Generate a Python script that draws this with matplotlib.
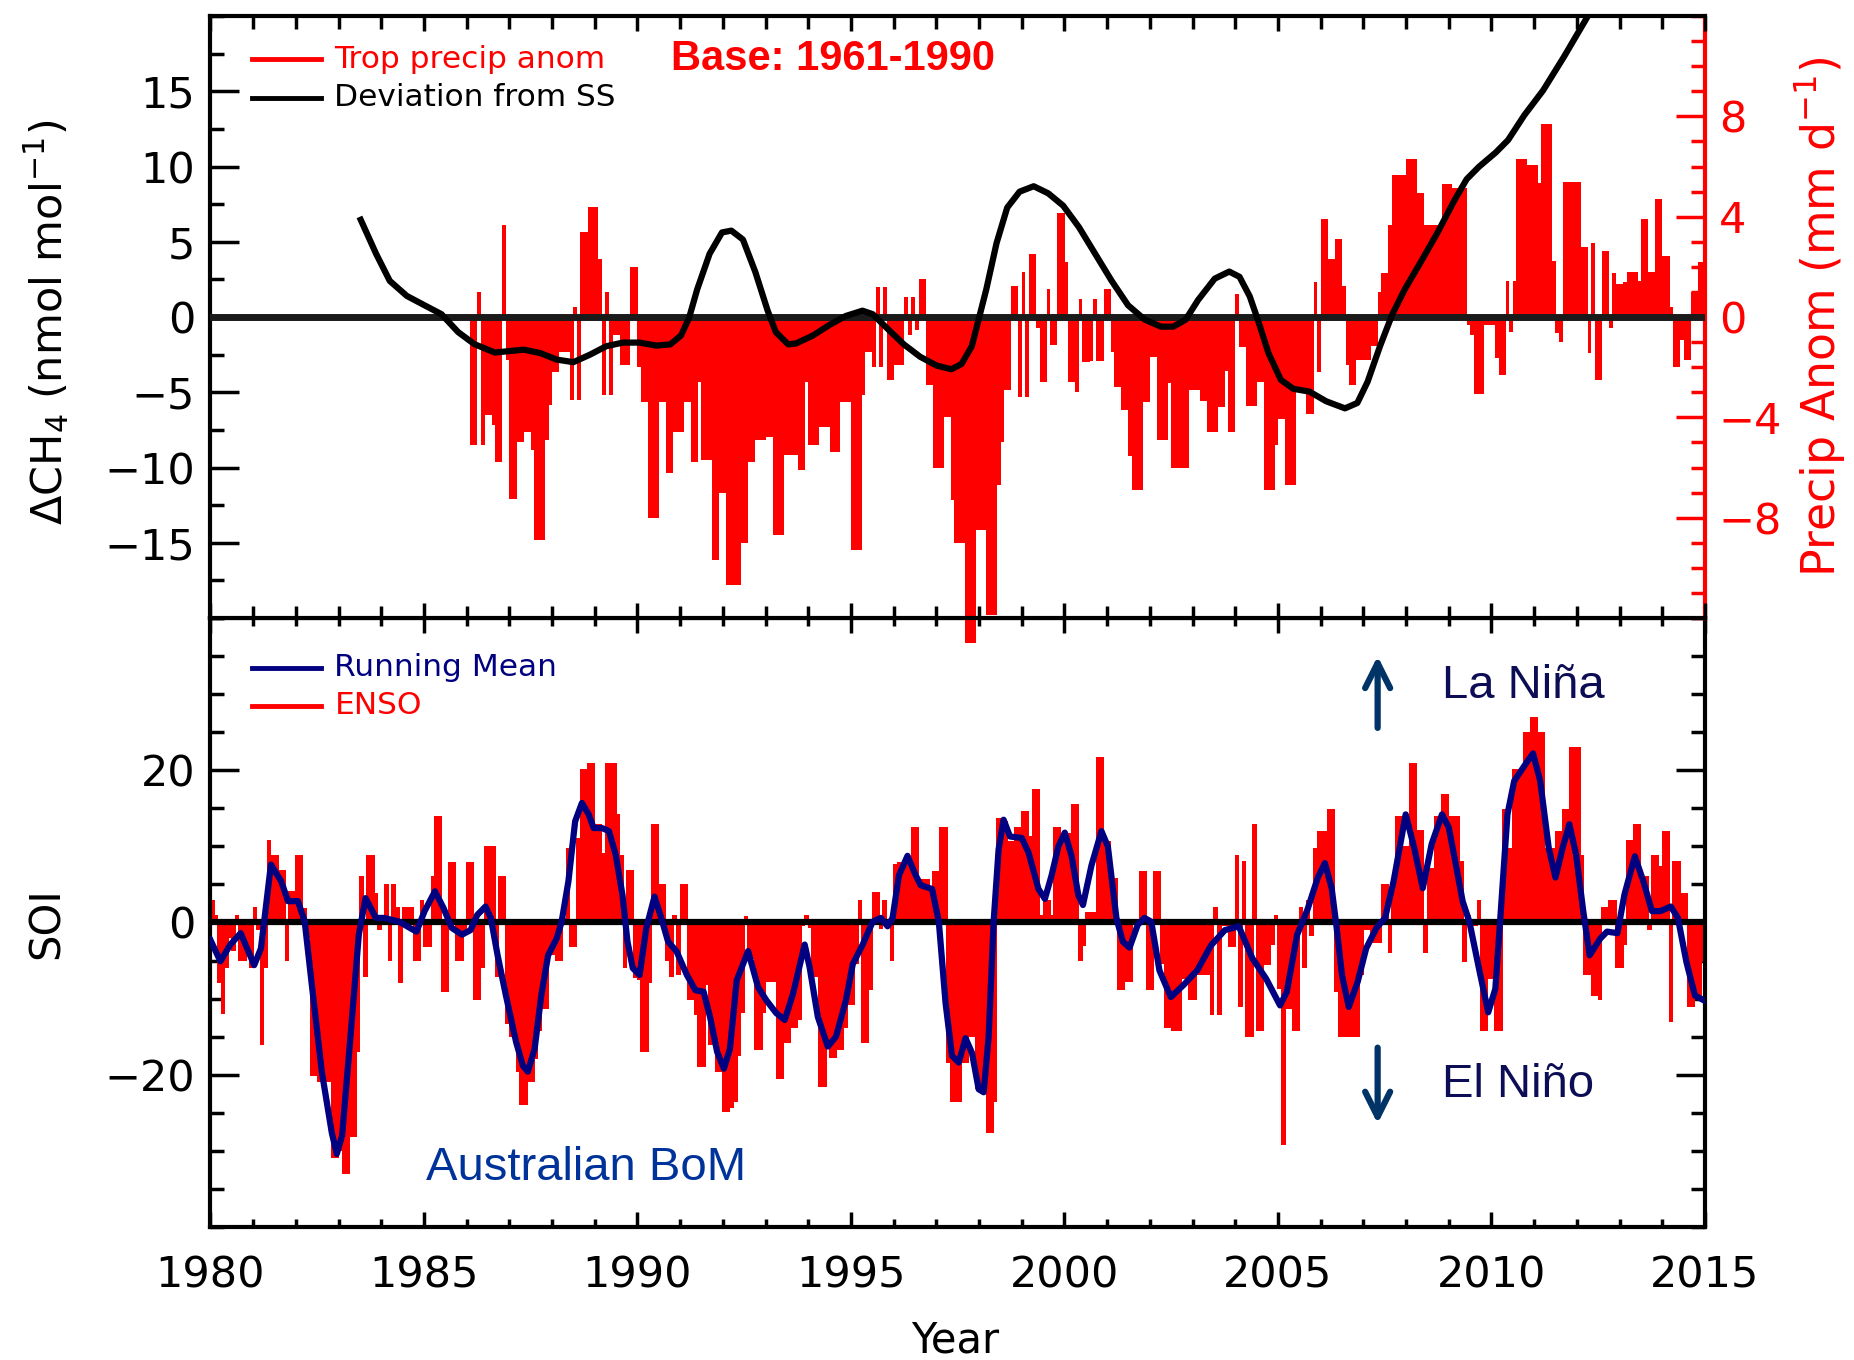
import matplotlib
matplotlib.use("Agg")
import matplotlib.pyplot as plt
import numpy as np
from matplotlib.ticker import MultipleLocator

# ---- values ----

# tropical precipitation anomaly (mm/d), monthly from Jan 1986
precip_start = 1986.0
precip_anom = [
    0.0, -5.1, -5.1, 1.0, -5.1, -3.9, -3.9, -4.3, -5.8, -5.8, 3.65, -1.7,          # 1986
    -7.25, -7.25, -5.0, -5.0, -4.6, -4.6, -5.3, -8.9, -8.9, -8.9, -4.9, -3.5,      # 1987
    -2.2, -2.2, -1.4, -1.4, -1.4, -3.3, 0.4, -3.3, 3.4, 3.4, 4.4, 4.4,             # 1988
    4.4, 2.3, -3.1, 1.0, -3.1, -0.7, -0.7, -1.9, -1.9, -1.9, 2.0, 2.0,             # 1989
    -2.0, -3.4, -3.4, -8.0, -8.0, -8.0, -3.4, -3.4, -6.2, -6.2, -4.6, -4.6,        # 1990
    -4.6, -3.4, -3.4, -5.8, -5.8, -2.6, -5.7, -5.7, -5.7, -9.7, -9.7, -7.0,        # 1991
    -7.0, -10.7, -10.7, -10.7, -10.7, -9.0, -9.0, -5.8, -5.8, -4.9, -4.9, -4.9,    # 1992
    -4.8, -4.8, -8.7, -8.7, -8.7, -5.5, -5.5, -5.5, -5.5, -6.1, -6.1, -2.6,        # 1993
    -5.1, -5.1, -5.1, -4.4, -4.4, -4.4, -5.4, -5.4, -5.4, -3.4, -3.4, -3.4,        # 1994
    -9.3, -9.3, -9.3, -3.1, -1.4, -1.4, -2.0, 1.2, -2.0, 1.2, -2.5, -2.5,          # 1995
    -1.9, -1.9, -1.9, 0.8, -0.7, 0.8, -0.5, 1.5, 1.5, -2.7, -2.7, -6.0,            # 1996
    -6.0, -6.0, -4.0, -4.0, -7.3, -9.0, -9.0, -9.0, -13.0, -13.0, -13.0, -8.5,     # 1997
    -8.5, -8.5, -11.9, -11.9, -11.9, -6.7, -5.0, -2.9, -2.9, 1.25, 1.25, -3.2,     # 1998
    1.8, -3.2, 2.5, 2.5, -0.45, -2.6, -2.6, 1.1, -1.1, -1.1, 4.15, 4.15,           # 1999
    2.2, -2.6, -2.6, -3.0, 0.7, -1.8, -1.8, -1.75, 0.7, -1.75, -1.75, 1.1,         # 2000
    1.1, -1.4, -2.8, -2.8, -3.7, -3.7, -5.55, -6.9, -6.9, -6.9, -3.4, -3.4,        # 2001
    -1.6, -1.6, -4.9, -4.9, -4.9, -2.65, -6.0, -6.0, -6.0, -6.0, -6.0, -2.9,       # 2002
    -2.9, -2.9, -3.35, -3.35, -4.6, -4.6, -4.6, -3.6, -3.6, -2.15, -4.6, -4.6,     # 2003
    0.9, -1.2, -1.2, -3.55, -3.55, -3.55, -2.6, -2.6, -6.9, -6.9, -6.9, -5.1,      # 2004
    -4.05, -4.05, -6.7, -6.7, -6.7, -2.85, -2.85, -2.85, -3.85, -3.85, 1.4, -2.2,  # 2005
    3.9, 3.9, 2.3, 2.3, 3.1, 3.1, 1.25, -1.9, -2.7, -2.7, -1.7, -1.7,              # 2006
    -1.7, -1.7, -1.15, -1.15, 1.0, 1.75, 1.75, 3.65, 5.65, 5.65, 5.65, 5.65,       # 2007
    6.3, 6.3, 6.3, 4.95, 4.95, 3.65, 3.65, 3.65, 3.65, 3.65, 5.3, 5.3,             # 2008
    5.3, 5.15, 5.15, 5.15, 5.15, -0.3, -0.7, -3.05, -3.05, -3.05, -0.3, -0.3,      # 2009
    -0.3, -1.65, -2.3, -2.3, 1.45, -0.6, 1.45, 6.3, 6.3, 6.3, 6.05, 6.05,          # 2010
    6.05, 5.35, 7.7, 7.7, 7.7, 2.25, -0.65, -1.0, 5.4, 5.4, 5.4, 5.4,              # 2011
    5.4, 2.8, 2.8, -1.45, 2.95, -2.5, -2.5, 2.65, 2.65, -0.45, 1.75, 1.3,          # 2012
    1.3, 1.4, 1.8, 1.8, 1.8, 1.45, 3.9, 3.9, 1.8, 1.8, 4.7, 4.7,                   # 2013
    2.45, 2.45, 0.4, -2.0, -2.0, -0.9, -1.7, -1.7, 1.0, 1.0, 2.2, 2.2,             # 2014
]

# CH4 deviation from steady state (nmol/mol)
dev_year = [1983.52, 1983.88, 1984.2, 1984.6, 1985.0, 1985.41, 1985.8, 1986.18,
            1986.66, 1987.34, 1987.73, 1988.11, 1988.5, 1988.89, 1989.27, 1989.66,
            1990.05, 1990.44, 1990.77, 1991.02, 1991.21, 1991.4, 1991.69, 1991.98,
            1992.2, 1992.47, 1992.76, 1993.05, 1993.24, 1993.53, 1993.72, 1994.11,
            1994.5, 1994.88, 1995.27, 1995.51, 1995.85, 1996.24, 1996.62, 1997.01,
            1997.35, 1997.59, 1997.83, 1997.98, 1998.17, 1998.41, 1998.66, 1998.95,
            1999.28, 1999.62, 1999.97, 2000.34, 2000.72, 2001.1, 2001.49, 2001.88,
            2002.26, 2002.55, 2002.84, 2003.13, 2003.52, 2003.86, 2004.1, 2004.34,
            2004.54, 2004.78, 2005.07, 2005.36, 2005.74, 2006.13, 2006.57, 2006.86,
            2007.1, 2007.39, 2007.68, 2007.97, 2008.36, 2008.74, 2009.13, 2009.42,
            2009.71, 2010.1, 2010.39, 2010.77, 2011.21, 2011.7, 2012.3, 2012.6]
dev_ss = [6.46, 4.2, 2.4, 1.4, 0.8, 0.19, -1.0, -1.8,
          -2.36, -2.17, -2.4, -2.83, -3.0, -2.5, -1.94, -1.7,
          -1.7, -1.9, -1.82, -1.23, -0.05, 1.84, 4.2, 5.62,
          5.74, 5.15, 3.0, 0.42, -1.0, -1.82, -1.75, -1.23,
          -0.52, 0.07, 0.42, 0.19, -0.76, -1.82, -2.64, -3.23,
          -3.47, -3.12, -1.94, -0.28, 1.84, 4.91, 7.27, 8.33,
          8.69, 8.22, 7.4, 5.97, 4.2, 2.43, 0.78, -0.17,
          -0.64, -0.64, -0.17, 1.13, 2.55, 3.02, 2.67, 1.37,
          -0.28, -2.41, -4.18, -4.77, -4.96, -5.6, -6.07, -5.71,
          -4.3, -1.94, 0.19, 1.84, 3.73, 5.62, 7.74, 9.16,
          9.99, 10.93, 11.76, 13.41, 15.06, 17.3, 20.2, 21.6]

# SOI, monthly from Jan 1980
soi_start = 1980.0
soi = [
    3.0, 1.0, -8.0, -12.0, -6.0, -2.0, -3.8, 1.0, -5.1, -5.1, -2.9, -6.0,           # 1980
    2.1, -1.0, -16.1, -6.0, 10.9, 8.9, 8.9, 6.9, 6.9, -5.1, 4.1, 4.1,              # 1981
    8.9, 8.9, 1.9, -2.0, -20.1, -20.1, -21.0, -21.0, -21.0, -21.0, -31.0, -31.0,   # 1982
    -30.0, -33.0, -33.0, -28.2, -28.2, -17.0, 6.1, -7.1, 8.9, 8.9, 3.9, -1.0,      # 1983
    0.8, 5.0, -5.1, 5.0, 2.1, -8.0, 2.1, 2.1, 2.1, -5.1, -5.1, 3.0,                # 1984
    -3.2, -3.2, 6.1, 14.0, 14.0, -9.1, -9.1, 8.0, 8.0, -5.1, -5.1, -1.0,           # 1985
    8.0, 8.0, -10.2, -10.2, -6.0, 10.0, 10.0, 10.0, -7.1, 6.1, 6.1, -13.3,         # 1986
    -15.0, -15.0, -19.6, -24.0, -24.0, -21.0, -21.0, -17.9, -14.2, -11.3, -11.3, -4.3,  # 1987
    -4.3, -5.1, -5.1, 0.6, 9.8, -3.2, -3.2, 11.1, 20.1, 20.1, 21.0, 21.0,          # 1988
    12.9, 12.9, 9.1, 21.0, 21.0, 21.0, 14.2, 8.9, -6.0, 6.9, 6.9, -7.3,            # 1989
    -7.6, -17.0, -17.0, -8.0, 12.9, 12.9, 5.0, 5.0, -5.1, -7.1, 1.0, -6.9,         # 1990
    5.0, 5.0, -10.2, -10.2, -12.2, -19.0, -19.0, -8.2, -16.1, -16.1, -19.6, -19.6, # 1991
    -24.9, -24.9, -24.4, -23.6, -17.5, -11.9, 0.8, -4.8, -4.8, -16.7, -16.7, -11.9,  # 1992
    -7.8, -7.8, -7.8, -20.6, -20.6, -15.8, -15.8, -13.9, -13.9, -12.8, -0.5, 1.0,  # 1993
    -0.7, -7.2, -7.2, -21.6, -21.6, -16.3, -17.8, -17.8, -16.7, -16.7, -13.9, -10.9,  # 1994
    -10.9, -5.5, 2.9, -15.8, -15.8, -8.9, 4.0, 4.0, -0.9, 2.9, 0.5, -5.0,          # 1995
    7.7, 7.9, 7.9, 7.9, 7.9, 12.6, 12.6, 5.7, 5.7, 5.7, 4.0, 6.8,                  # 1996
    6.8, 12.6, 12.6, -18.4, -23.6, -23.6, -23.6, -18.4, -18.4, -15.0, -15.0, -21.9,  # 1997
    -21.9, -21.9, -27.7, -27.7, -23.6, 13.7, 13.7, 13.3, 10.7, 10.7, 12.6, 12.6,   # 1998
    14.6, 14.6, 11.3, 17.6, 17.6, 1.0, 2.9, 2.9, 1.0, 12.6, 12.6, 11.8,            # 1999
    11.8, 11.8, 15.6, 15.6, -5.0, -3.1, 1.4, 1.4, 1.4, 21.7, 21.7, 10.7,           # 2000
    10.7, 5.9, 5.9, -8.9, -8.9, -7.8, -7.8, -0.3, -0.3, 6.8, 6.8, -8.9,            # 2001
    -8.9, 6.8, 6.8, -5.5, -13.9, -13.9, -14.2, -14.2, -14.2, -7.4, -7.4, -10.2,    # 2002
    -10.2, -6.9, -6.9, -6.9, -6.9, -12.2, 2.1, -12.2, -0.5, -0.5, -3.2, -3.2,      # 2003
    8.9, -11.1, 8.1, -15.1, -15.1, 12.9, -14.2, -14.2, -5.6, -5.6, -3.0, 1.0,      # 2004
    -8.7, -29.2, -11.3, -11.3, -14.2, -14.2, 2.1, -6.0, 3.0, -1.8, 9.8, 12.0,      # 2005
    12.0, 12.0, 14.9, 14.9, -9.1, -15.1, -15.1, -15.1, -15.1, -15.1, -15.1, -6.9,  # 2006
    -1.0, -1.0, -2.7, -2.7, -2.7, 5.0, 5.0, -4.0, 5.0, 14.0, 14.0, 10.0,           # 2007
    10.0, 21.0, 21.0, 12.2, 12.2, -4.0, 7.2, 7.2, 14.0, 14.0, 16.9, 16.9,          # 2008
    14.0, 14.0, 14.0, 8.1, -5.2, 1.0, -0.5, -0.5, 3.0, -14.2, -14.2, -7.4,         # 2009
    -7.4, -14.2, -14.2, 14.9, 9.8, 9.8, 20.2, 20.2, 20.2, 25.0, 25.0, 27.0,        # 2010
    27.0, 25.0, 25.0, 9.8, 9.8, 9.8, 12.0, 12.0, 14.9, 14.9, 23.0, 23.0,           # 2011
    23.0, 8.9, -6.9, -6.9, -9.6, -9.6, -10.2, 2.1, 2.1, 3.0, 3.0, -6.0,            # 2012
    -6.0, -3.0, 10.9, 10.9, 12.9, 12.9, 6.1, 6.1, -1.0, 8.9, 8.9, 7.4,             # 2013
    12.0, 12.0, -13.1, 8.1, 8.1, 3.9, 3.9, -11.1, -11.1, -10.0, -10.0, -5.2,       # 2014
]

# SOI running mean, traced as (months after Jan 1980, SOI)
rm_month = [0, 2.8, 5.6, 8.5, 12.3, 14.2, 17, 19.9, 21.8, 24.6, 26.5, 28.4, 31.3, 34.1,
            35.5, 37, 39.3, 41.7, 43.6, 46.5, 48.8, 53.1, 56, 57.9, 60.2, 63.1, 65.5,
            67.8, 70.7, 73.1, 75, 77.3, 78.8, 80.7, 83, 85.9, 87.8, 89.2, 91.1, 93,
            94.9, 97.3, 98.7, 100.6, 102.5, 104.4, 106.3, 107.7, 110.1, 112, 113.9,
            115.8, 117.2, 118.7, 120.6, 122.5, 124.8, 126.7, 128.6, 131, 133.9, 136.3,
            138.6, 140.5, 142.4, 144.3, 146, 147.9, 151.1, 153.9, 156.2, 159, 161.4,
            163.7, 167, 168.4, 170.7, 173.5, 175.8, 178.6, 180.5, 183.3, 186.1, 188.4,
            190.3, 191.7, 193.5, 195.9, 198.2, 199.6, 202.8, 204.7, 206.6, 208.4,
            210.3, 212.2, 214, 215.9, 217.3, 218.7, 220.1, 221.5, 222.9, 224.7, 228,
            229.9, 232.7, 234.5, 236.4, 238.3, 240.1, 242, 243.9, 245.2, 247.6, 250.4,
            252.2, 254.6, 256.4, 258.3, 260.6, 262.5, 264.4, 266.7, 269.9, 273.5,
            277.3, 281.2, 285.1, 289, 292.8, 296.7, 300.6, 302.5, 305.4, 308.3, 311.2,
            313.2, 315.1, 316.5, 318, 319.9, 322.4, 324.8, 327.7, 330.1, 332.5, 335.9,
            338.3, 340.7, 343.2, 346.1, 348, 350, 351.9, 353.8, 356.7, 359.1, 361.1,
            362.5, 364.5, 366.4, 370.3, 371.7, 373.7, 376.1, 378, 380, 381.9, 383.8,
            385.8, 387.6, 390.6, 392.5, 395.4, 397.4, 400.3, 402.7, 405.1, 407.5,
            410.4, 412.4, 414.8, 417.2, 419.6]
rm_soi = [-2.3, -5.1, -2.9, -1.4, -5.6, -3.4, 7.6, 5.4, 2.8, 2.8, 0.1, -7.8, -19.6, -27.6,
          -30.4, -28, -15.3, -1.6, 3.2, 0.6, 0.6, 0.1, -0.7, -1.2, 1.5, 4.1, 1.9,
          -0.7, -1.6, -1.0, 1.0, 2.1, 0.6, -4.3, -9.5, -15.7, -18.8, -19.6, -16.6, -9.5,
          -4.3, -2.1, 0.1, 5.4, 13.3, 15.7, 14.2, 12.4, 12.4, 12.0, 8.9,
          3.6, -2.5, -6.0, -6.9, -0.7, 3.4, 0.6, -2.5, -3.8, -6.9, -8.9,
          -9.1, -12.6, -17.0, -19.2, -16.6, -7.6, -3.75, -8.5, -10.2, -11.9, -12.8,
          -9.4, -2.9, -5.9, -12.4, -16.3, -15.0, -10.2, -5.5, -2.9, 0.1, 0.6,
          -0.5, 0.6, 6.2, 8.75, 6.2, 4.9, 4.4, 0.1, -10.6, -17.5,
          -18.4, -15.2, -17.1, -21.9, -22.3, -15.0, 0.1, 9.6, 13.5, 11.3, 11.1,
          9.2, 4.4, 3.1, 6.2, 10.0, 11.8, 8.75, 3.6, 2.3, 7.5, 12.0,
          10.0, 0.6, -2.5, -3.3, -0.3, 0.6, 0.1, -6.3, -9.8, -8.2,
          -6.3, -3.0, -1.0, -0.5, -4.7, -7.4, -10.9, -9.1, -1.6, 1.7, 5.9,
          7.8, 4.5, -0.7, -6.9, -11.1, -7.8, -3.4, -0.7, 0.6, 5.4, 14.2,
          9.8, 4.5, 10.3, 14.2, 12.5, 7.6, 2.8, 0.1, -6.5, -11.8, -8.7,
          0.6, 14.2, 18.6, 21.3, 22.2, 18.6, 9.8, 5.9, 9.8, 12.9, 8.9,
          1.5, -4.3, -2.1, -1.2, -1.4, 3.7, 8.7, 5.4, 1.5, 1.5,
          2.1, 0.6, -5.2, -9.6, -10.2]

# ---- figure ----
plt.rcParams['font.family'] = ['DejaVu Sans']
plt.rcParams['mathtext.fontset'] = 'dejavusans'

fig = plt.figure(figsize=(18.54, 13.60), dpi=100)
L, R = 0.1135, 0.9196
ax_bot = fig.add_axes([L, 0.0978, R - L, 0.4478])
ax_top = fig.add_axes([L, 0.5456, R - L, 0.4426])
ax_pr = ax_top.twinx()

# bars of the precip axis must sit under the CH4 curve, and above the lower panel
ax_bot.set_zorder(0)
ax_pr.set_zorder(1)
ax_top.set_zorder(2)
ax_pr.patch.set_visible(True)
ax_pr.patch.set_facecolor('white')
ax_top.patch.set_visible(False)

tick_fs = 31

# ---------- top panel ----------
px = precip_start + np.arange(len(precip_anom)) / 12.0
ax_pr.bar(px, precip_anom, width=1 / 12.0 * 1.05, align='edge', color='#ff0000',
          linewidth=0, clip_on=False)
ax_pr.set_ylim(-12, 12)
ax_pr.set_yticks([-8, -4, 0, 4, 8])
ax_pr.yaxis.set_minor_locator(MultipleLocator(1))
ax_pr.tick_params(axis='y', which='both', direction='in', colors='red',
                  labelsize=tick_fs, pad=10, width=2.5)
ax_pr.tick_params(axis='y', which='major', length=21)
ax_pr.tick_params(axis='y', which='minor', length=10)
for s in ['left', 'top', 'bottom']:
    ax_pr.spines[s].set_visible(False)
ax_pr.spines['right'].set_color('red')
ax_pr.spines['right'].set_linewidth(3)

ax_top.axhline(0, color='#1a1a1a', lw=5, zorder=3)
ax_top.plot(dev_year, dev_ss, color='black', lw=4.5, zorder=4)
ax_top.set_xlim(1980, 2015)
ax_top.set_ylim(-20, 20)
ax_top.set_yticks([-15, -10, -5, 0, 5, 10, 15])
ax_top.yaxis.set_minor_locator(MultipleLocator(2.5))
ax_top.xaxis.set_major_locator(MultipleLocator(5))
ax_top.xaxis.set_minor_locator(MultipleLocator(1))
ax_top.tick_params(axis='both', which='both', direction='in', top=True, bottom=True,
                   left=True, right=False, labelbottom=False, width=2.5)
ax_top.tick_params(axis='y', which='major', length=21, labelsize=tick_fs, pad=11)
ax_top.tick_params(axis='y', which='minor', length=10)
ax_top.tick_params(axis='x', which='major', length=11)
ax_top.tick_params(axis='x', which='minor', length=9)
ax_top.spines['right'].set_visible(False)
for s in ['left', 'top', 'bottom']:
    ax_top.spines[s].set_linewidth(3)

# legend of top panel
ax_top.plot([0.028, 0.074], [0.928, 0.928], transform=ax_top.transAxes,
            color='#ff0000', lw=3.5, zorder=5)
ax_top.text(0.083, 0.928, 'Trop precip anom', transform=ax_top.transAxes,
            color='#ff0000', fontsize=22.5, va='center', ha='left')
ax_top.plot([0.028, 0.074], [0.864, 0.864], transform=ax_top.transAxes,
            color='black', lw=3.5, zorder=5)
ax_top.text(0.083, 0.864, 'Deviation from SS', transform=ax_top.transAxes,
            color='black', fontsize=22.5, va='center', ha='left')
ax_top.text(0.308, 0.928, 'Base: 1961-1990', transform=ax_top.transAxes,
            color='#ff0000', fontsize=30, fontweight='bold', va='center', ha='left',
            family='Liberation Sans')

# ---------- bottom panel ----------
sx = soi_start + np.arange(len(soi)) / 12.0 + 1 / 24.0
ax_bot.bar(sx, soi, width=1 / 12.0 * 1.3, color='#ff0000', linewidth=0, zorder=2)
ax_bot.axhline(0, color='black', lw=4.5, zorder=3)
rm_year = soi_start + np.array(rm_month) / 12.0
ax_bot.plot(rm_year, rm_soi, color='#000080', lw=4.5, zorder=4)
ax_bot.set_xlim(1980, 2015)
ax_bot.set_ylim(-40, 40)
ax_bot.set_yticks([-20, 0, 20])
ax_bot.yaxis.set_minor_locator(MultipleLocator(5))
ax_bot.xaxis.set_major_locator(MultipleLocator(5))
ax_bot.xaxis.set_minor_locator(MultipleLocator(1))
ax_bot.tick_params(axis='both', which='both', direction='in', top=True, bottom=True,
                   left=True, right=True, width=2.5, labelsize=tick_fs)
ax_bot.tick_params(axis='y', which='major', length=21, pad=11)
ax_bot.tick_params(axis='y', which='minor', length=10)
ax_bot.tick_params(axis='x', which='major', length=11, pad=20)
ax_bot.tick_params(axis='x', which='minor', length=6)
for s in ax_bot.spines.values():
    s.set_linewidth(3)

# legend of bottom panel
ax_bot.plot([0.028, 0.074], [0.918, 0.918], transform=ax_bot.transAxes,
            color='#000080', lw=3.5, zorder=5)
ax_bot.text(0.083, 0.918, 'Running Mean', transform=ax_bot.transAxes,
            color='#000080', fontsize=22.5, va='center', ha='left')
ax_bot.plot([0.028, 0.074], [0.856, 0.856], transform=ax_bot.transAxes,
            color='#ff0000', lw=3.5, zorder=5)
ax_bot.text(0.083, 0.856, 'ENSO', transform=ax_bot.transAxes,
            color='#ff0000', fontsize=22.5, va='center', ha='left')

# ENSO annotations
arrow_kw = dict(arrowstyle='->', lw=4.5, color='#003366', mutation_scale=45)
ax_bot.annotate('', xy=(0.781, 0.942), xytext=(0.781, 0.815),
                xycoords='axes fraction', arrowprops=arrow_kw)
ax_bot.annotate('', xy=(0.781, 0.165), xytext=(0.781, 0.299),
                xycoords='axes fraction', arrowprops=arrow_kw)
ax_bot.text(0.824, 0.889, 'La Niña', transform=ax_bot.transAxes, color='#0d0d55',
            fontsize=34, va='center', ha='left', family='Liberation Sans')
ax_bot.text(0.824, 0.233, 'El Niño', transform=ax_bot.transAxes, color='#0d0d55',
            fontsize=34, va='center', ha='left', family='Liberation Sans')
ax_bot.text(0.144, 0.097, 'Australian BoM', transform=ax_bot.transAxes,
            color='#003399', fontsize=34, va='center', ha='left',
            family='Liberation Sans')

# axis titles
fig.text(0.0254, 0.763, r'ΔCH$_4$ (nmol mol$^{-1}$)', rotation=90, fontsize=31,
         ha='center', va='center')
fig.text(0.0254, 0.321, 'SOI', rotation=90, fontsize=30, ha='center', va='center')
fig.text(0.982, 0.767, r'Precip Anom (mm d$^{-1}$)', rotation=90, fontsize=33,
         ha='center', va='center', color='#ff0000')
fig.text(0.515, 0.0147, 'Year', fontsize=30, ha='center', va='center')

fig.savefig('out.png', dpi=100)
